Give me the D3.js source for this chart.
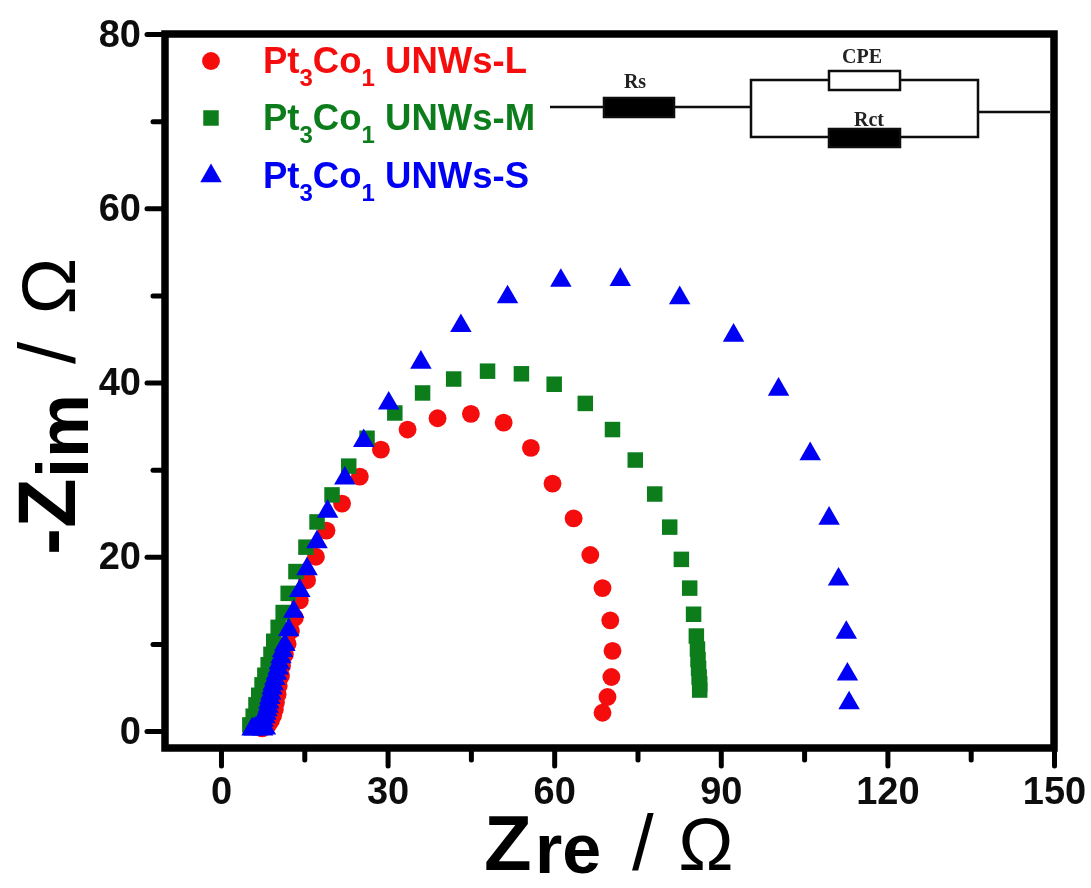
<!DOCTYPE html>
<html>
<head>
<meta charset="utf-8">
<script src="https://d3js.org/d3.v7.min.js"></script>
<style>
  html, body { margin: 0; padding: 0; background: #fff; }
  svg { display: block; }
  text { font-family: "Liberation Sans", Arial, sans-serif; font-weight: bold; }
</style>
</head>
<body>
<div id="chart"></div>
<script>
// values
var xTicks = [0, 30, 60, 90, 120, 150];
var xMinor = [15, 45, 75, 105, 135];
var yTicks = [0, 20, 40, 60, 80];
var yMinor = [10, 30, 50, 70];

var lZre = [68.7, 69.6, 70.3, 70.5, 70.1, 68.7, 66.5, 63.5, 59.7, 55.8, 50.9, 45, 39, 33.6, 28.8, 25, 21.8, 19, 17.1, 15.5, 14.2, 13.3, 12.6, 12, 11.5, 11, 10.8, 10.4, 10.2, 9.9, 9.7, 9.4, 9, 8.6, 8.1, 7.4];
var lZim = [2.1, 3.9, 6.2, 9.2, 12.7, 16.4, 20.2, 24.4, 28.4, 32.5, 35.4, 36.4, 35.9, 34.6, 32.3, 29.2, 26.1, 23, 20, 17.3, 15, 13, 11.5, 10, 8.8, 7.5, 6.3, 5.2, 4.2, 3.3, 2.5, 1.8, 1.2, 0.8, 0.5, 0.3];

var mZre = [86.2, 86.2, 86.1, 86, 85.9, 85.8, 85.6, 85.1, 84.4, 82.9, 80.8, 78.1, 74.6, 70.5, 65.6, 60, 54.1, 48, 41.9, 36.3, 31.3, 26.3, 23, 20, 17.3, 15.3, 13.5, 12.1, 11.2, 10.3, 9.5, 9, 8.5, 7.9, 7.4, 6.8, 6.3, 5.8, 5.2];
var mZim = [4.7, 5.4, 6.2, 7.2, 8.2, 9.4, 10.9, 13.4, 16.4, 19.7, 23.4, 27.2, 31.1, 34.6, 37.6, 39.8, 41, 41.3, 40.4, 38.8, 36.5, 33.6, 30.4, 27.1, 24, 21.1, 18.3, 15.8, 13.6, 11.9, 10.3, 8.8, 7.6, 6.4, 5.3, 4.1, 3, 1.7, 0.7];

var sZre = [113.1, 112.8, 112.6, 111.2, 109.5, 106.1, 100.4, 92.3, 82.6, 71.9, 61.2, 51.6, 43.2, 36, 30.2, 25.7, 22.3, 19.2, 17.3, 15.5, 14.2, 13.1, 12.2, 11.5, 11.1, 10.8, 10.5, 10.3, 10, 9.7, 9.4, 9.2, 9, 8.8, 8.6, 8.5, 8.3, 8.1, 7.9, 7.6, 7.3, 7, 6.6, 6.3, 6, 5.6, 7.5, 8];
var sZim = [3.2, 6.5, 11.3, 17.4, 24.4, 31.8, 39.2, 45.4, 49.7, 51.8, 51.7, 49.8, 46.5, 42.3, 37.6, 33.3, 29, 25.2, 21.7, 18.6, 16.1, 13.7, 11.6, 9.9, 9.2, 8.5, 7.8, 7.2, 6.6, 6, 5.4, 4.9, 4.3, 3.8, 3.3, 2.8, 2.4, 2, 1.6, 1.2, 0.9, 0.6, 0.4, 0.3, 0.2, 0.2, 0.2, 0.3];

var red = "#f50d0d", green = "#0a7d1e", blue = "#0000f5";

var width = 1091, height = 888;
var left = 165, right = 1054, top_ = 34, bottom = 748;

var svg = d3.select("#chart").append("svg")
  .attr("width", width)
  .attr("height", height);

// the reference is a soft scan, so blur everything a little
svg.append("defs").append("filter")
  .attr("id", "soft")
  .append("feGaussianBlur")
  .attr("stdDeviation", 0.7);

var g = svg.append("g").attr("filter", "url(#soft)");

var x = d3.scaleLinear().domain([-10.08, 150]).range([left, right]);
var y = d3.scaleLinear().domain([-1.95, 80]).range([bottom, top_]);

var circleSize = 250, squareSize = 240, triangleSize = 200;

// markers
function addSeries(xs, ys, color, type, size) {
  g.append("g").selectAll("path")
    .data(xs.map(function (d, i) { return [d, ys[i]]; }))
    .enter().append("path")
    .attr("transform", function (d) { return "translate(" + x(d[0]) + "," + y(d[1]) + ")"; })
    .attr("d", d3.symbol().type(type).size(size))
    .attr("fill", color);
}
addSeries(lZre, lZim, red, d3.symbolCircle, circleSize);
addSeries(mZre, mZim, green, d3.symbolSquare, squareSize);
addSeries(sZre, sZim, blue, d3.symbolTriangle, triangleSize);

// axes
var xAxis = g.append("g").attr("transform", "translate(0," + (bottom + 3) + ")")
  .call(d3.axisBottom(x).tickValues(xTicks).tickSize(15).tickPadding(11).tickFormat(d3.format("d")));
var xAxisMinor = g.append("g").attr("transform", "translate(0," + (bottom + 3) + ")")
  .call(d3.axisBottom(x).tickValues(xMinor).tickSize(9).tickFormat(""));
var yAxis = g.append("g").attr("transform", "translate(" + (left - 3) + ",0)")
  .call(d3.axisLeft(y).tickValues(yTicks).tickSize(15).tickPadding(6).tickFormat(d3.format("d")));
var yAxisMinor = g.append("g").attr("transform", "translate(" + (left - 3) + ",0)")
  .call(d3.axisLeft(y).tickValues(yMinor).tickSize(9).tickFormat(""));

[xAxis, xAxisMinor, yAxis, yAxisMinor].forEach(function (a) {
  a.select(".domain").remove();
  a.selectAll(".tick line").attr("stroke", "#000").attr("stroke-width", 5).attr("stroke-linecap", "round");
  a.selectAll(".tick text").attr("fill", "#111").style("font-size", "38px").style("font-family", "Liberation Sans").style("font-weight", "bold");
});

// frame
g.append("rect")
  .attr("x", left).attr("y", top_)
  .attr("width", right - left).attr("height", bottom - top_)
  .attr("fill", "none").attr("stroke", "#000").attr("stroke-width", 7.5);

// axis titles, built piece by piece: the subscript-like letters sit lower and the slash and omega are not bold
var xTitle = [
  { text: "Z", x: 484, y: 870, size: 78, weight: "bold", anchor: "start" },
  { text: "re", x: 535, y: 873, size: 70, weight: "bold", anchor: "start" },
  { text: "/", x: 632, y: 870, size: 78, weight: "normal", anchor: "start" },
  { text: "Ω", x: 706, y: 870, size: 74, weight: "normal", anchor: "middle" }
];
g.append("g").selectAll("text").data(xTitle).enter().append("text")
  .attr("x", function (d) { return d.x; })
  .attr("y", function (d) { return d.y; })
  .attr("text-anchor", function (d) { return d.anchor; })
  .style("font-size", function (d) { return d.size + "px"; })
  .style("font-weight", function (d) { return d.weight; })
  .text(function (d) { return d.text; });

var yTitle = [
  { text: "-Z", x: 75, y: 555, size: 81, weight: "bold", anchor: "start" },
  { text: "im", x: 88, y: 478, size: 72, weight: "bold", anchor: "start" },
  { text: "/", x: 75, y: 364, size: 80, weight: "normal", anchor: "start" },
  { text: "Ω", x: 75, y: 286, size: 76, weight: "normal", anchor: "middle" }
];
g.append("g").selectAll("text").data(yTitle).enter().append("text")
  .attr("transform", function (d) { return "translate(" + d.x + "," + d.y + ") rotate(-90)"; })
  .attr("text-anchor", function (d) { return d.anchor; })
  .style("font-size", function (d) { return d.size + "px"; })
  .style("font-weight", function (d) { return d.weight; })
  .text(function (d) { return d.text; });

// legend
var legendNames = ["UNWs-L", "UNWs-M", "UNWs-S"];
var legendColors = [red, green, blue];
var legendSymbols = [d3.symbolCircle, d3.symbolSquare, d3.symbolTriangle];
var legendSizes = [circleSize, squareSize, triangleSize];
var legendY = [61, 118, 176];

legendNames.forEach(function (name, i) {
  g.append("path")
    .attr("transform", "translate(211," + legendY[i] + ")")
    .attr("d", d3.symbol().type(legendSymbols[i]).size(legendSizes[i]))
    .attr("fill", legendColors[i]);
  var t = g.append("text")
    .attr("x", 263).attr("y", legendY[i] + 12)
    .attr("fill", legendColors[i])
    .style("font-size", "36.5px");
  t.append("tspan").text("Pt");
  t.append("tspan").attr("dy", 13).style("font-size", "24px").text("3");
  t.append("tspan").attr("dy", -13).text("Co");
  t.append("tspan").attr("dy", 13).style("font-size", "24px").text("1");
  t.append("tspan").attr("dy", -13).text(" " + name);
});

// equivalent circuit inset
var wires = [
  [[550, 107], [751, 107]],
  [[829, 80], [751, 80], [751, 137], [829, 137]],
  [[900, 80], [978, 80], [978, 137], [900, 137]],
  [[978, 112], [1050, 112]]
];
g.append("g").selectAll("path").data(wires).enter().append("path")
  .attr("d", d3.line())
  .attr("fill", "none").attr("stroke", "#111").attr("stroke-width", 2.5);

var parts = [
  { x: 604, y: 98, w: 70, h: 19, fill: "#000" },
  { x: 829, y: 71, w: 71, h: 19, fill: "#fff" },
  { x: 829, y: 129, w: 71, h: 18, fill: "#000" }
];
g.append("g").selectAll("rect").data(parts).enter().append("rect")
  .attr("x", function (d) { return d.x; })
  .attr("y", function (d) { return d.y; })
  .attr("width", function (d) { return d.w; })
  .attr("height", function (d) { return d.h; })
  .attr("fill", function (d) { return d.fill; })
  .attr("stroke", "#111").attr("stroke-width", 2.5);

var labels = [
  { text: "Rs", x: 635, y: 88 },
  { text: "CPE", x: 862, y: 63 },
  { text: "Rct", x: 869, y: 126 }
];
g.append("g").selectAll("text").data(labels).enter().append("text")
  .attr("x", function (d) { return d.x; })
  .attr("y", function (d) { return d.y; })
  .attr("text-anchor", "middle")
  .attr("fill", "#222")
  .style("font-family", "Liberation Serif")
  .style("font-size", "20px")
  .text(function (d) { return d.text; });
</script>
</body>
</html>
